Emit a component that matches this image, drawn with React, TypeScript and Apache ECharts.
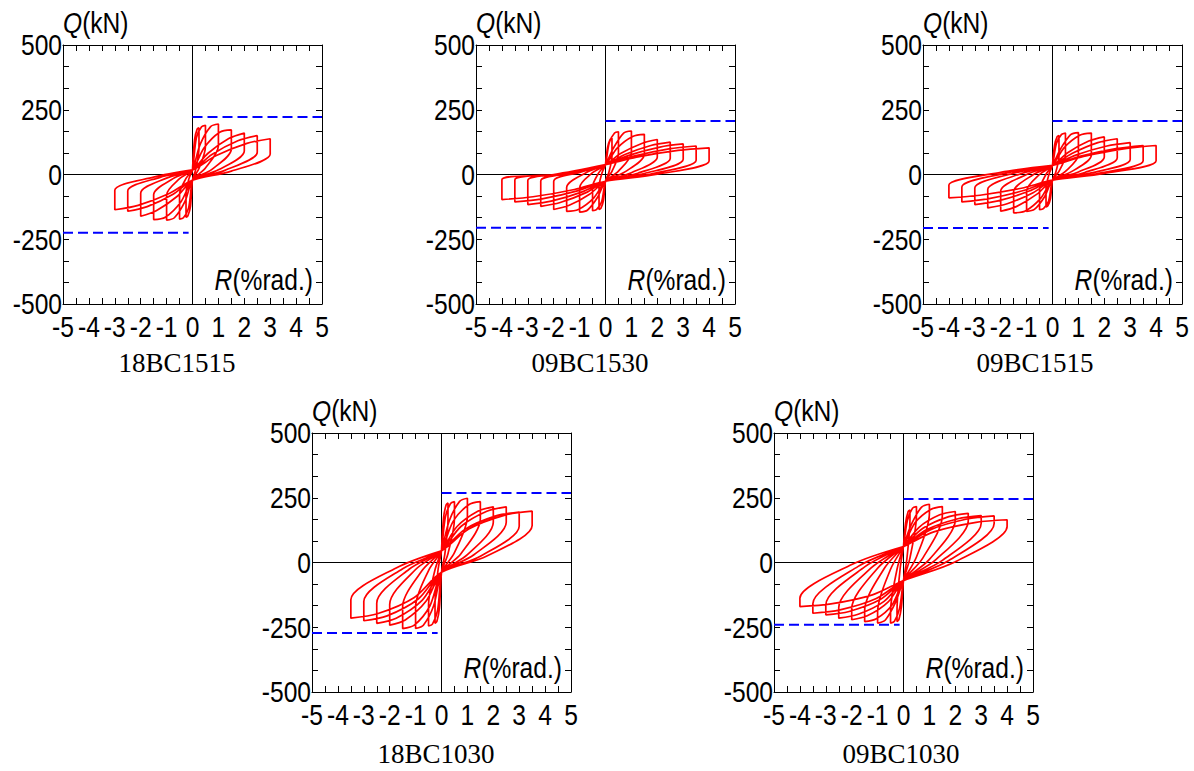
import React, { useEffect, useRef } from 'react';
import * as echarts from 'echarts';

// ---------- data (R in %rad., Q in kN) ----------
const SPECIMENS = ['18BC1515', '09BC1530', '09BC1515', '18BC1030', '09BC1030'];

const LOOPS_18BC1515: number[][][] = [
  [[0, 18], [0.08, 135], [0.18, 175], [0.25, 180], [0.25, 103], [0.13, 22], [0, -22], [-0.08, -124], [-0.18, -160], [-0.25, -165], [-0.25, -74], [-0.13, -14]],
  [[0, 18], [0.15, 142], [0.35, 184], [0.5, 190], [0.5, 108], [0.25, 23], [0, -22], [-0.15, -129], [-0.35, -167], [-0.5, -172], [-0.5, -77], [-0.25, -15]],
  [[0, 18], [0.3, 117], [0.7, 185], [1, 195], [1, 111], [0.5, 25], [0, -22], [-0.3, -106], [-0.7, -167], [-1, -176], [-1, -79], [-0.5, -16]],
  [[0, 18], [0.45, 103], [1.05, 163], [1.5, 172], [1.5, 98], [0.75, 20], [0, -22], [-0.45, -106], [-1.05, -165], [-1.5, -174], [-1.5, -78], [-0.75, -16]],
  [[0, 18], [0.6, 82], [1.4, 139], [2, 160], [2, 91], [1, 18], [0, -22], [-0.6, -85], [-1.4, -140], [-2, -161], [-2, -72], [-1, -14]],
  [[0, 18], [0.75, 77], [1.75, 130], [2.5, 150], [2.5, 86], [1.25, 16], [0, -22], [-0.75, -76], [-1.75, -124], [-2.5, -142], [-2.5, -64], [-1.25, -11]],
  [[0, 18], [0.9, 72], [2.1, 120], [3, 138], [3, 79], [1.5, 13], [0, -22], [-0.9, -73], [-2.1, -119], [-3, -136], [-3, -61], [-1.5, -10]],
];

const LOOPS_09BC1530: number[][][] = [
  [[0, 38], [0.08, 105], [0.18, 136], [0.25, 140], [0.25, 70], [0.13, 8], [0, -26], [-0.08, -101], [-0.18, -131], [-0.25, -135], [-0.25, -47], [-0.13, 8]],
  [[0, 38], [0.15, 124], [0.35, 160], [0.5, 165], [0.5, 83], [0.25, 12], [0, -26], [-0.15, -105], [-0.35, -136], [-0.5, -140], [-0.5, -49], [-0.25, 8]],
  [[0, 38], [0.3, 101], [0.7, 160], [1, 168], [1, 84], [0.5, 13], [0, -26], [-0.3, -87], [-0.7, -138], [-1, -145], [-1, -51], [-0.5, 7]],
  [[0, 38], [0.45, 102], [1.05, 147], [1.5, 155], [1.5, 78], [0.75, 10], [0, -26], [-0.45, -90], [-1.05, -135], [-1.5, -142], [-1.5, -50], [-0.75, 7]],
  [[0, 38], [0.6, 82], [1.4, 120], [2, 135], [2, 68], [1, 7], [0, -26], [-0.6, -75], [-1.4, -119], [-2, -135], [-2, -27], [-1, 8]],
  [[0, 38], [0.75, 77], [1.75, 112], [2.5, 125], [2.5, 63], [1.25, 5], [0, -26], [-0.75, -70], [-1.75, -108], [-2.5, -123], [-2.5, -25], [-1.25, 6]],
  [[0, 38], [0.9, 74], [2.1, 106], [3, 118], [3, 59], [1.5, 4], [0, -26], [-0.9, -67], [-2.1, -103], [-3, -116], [-3, -23], [-1.5, 4]],
  [[0, 38], [1.05, 70], [2.45, 99], [3.5, 110], [3.5, 55], [1.75, 2], [0, -26], [-1.05, -62], [-2.45, -94], [-3.5, -106], [-3.5, -21], [-1.75, 2]],
  [[0, 38], [1.2, 67], [2.8, 93], [4, 103], [4, 52], [2, 1], [0, -26], [-1.2, -58], [-2.8, -86], [-4, -97], [-4, -20], [-2, 0]],
];

const LOOPS_09BC1515: number[][][] = [
  [[0, 35], [0.08, 113], [0.18, 146], [0.25, 150], [0.25, 70], [0.13, 10], [0, -22], [-0.08, -94], [-0.18, -121], [-0.25, -125], [-0.25, -56], [-0.13, 3]],
  [[0, 35], [0.15, 120], [0.35, 155], [0.5, 160], [0.5, 75], [0.25, 12], [0, -22], [-0.15, -102], [-0.35, -132], [-0.5, -136], [-0.5, -61], [-0.25, 1]],
  [[0, 35], [0.3, 97], [0.7, 154], [1, 162], [1, 76], [0.5, 12], [0, -22], [-0.3, -85], [-0.7, -135], [-1, -142], [-1, -64], [-0.5, 0]],
  [[0, 35], [0.45, 104], [1.05, 152], [1.5, 160], [1.5, 75], [0.75, 12], [0, -22], [-0.45, -91], [-1.05, -141], [-1.5, -148], [-1.5, -67], [-0.75, -1]],
  [[0, 35], [0.6, 85], [1.4, 129], [2, 145], [2, 68], [1, 10], [0, -22], [-0.6, -76], [-1.4, -124], [-2, -142], [-2, -64], [-1, 0]],
  [[0, 35], [0.75, 81], [1.75, 123], [2.5, 138], [2.5, 65], [1.25, 8], [0, -22], [-0.75, -70], [-1.75, -113], [-2.5, -129], [-2.5, -58], [-1.25, 2]],
  [[0, 35], [0.9, 75], [2.1, 110], [3, 123], [3, 58], [1.5, 6], [0, -22], [-0.9, -64], [-2.1, -102], [-3, -116], [-3, -52], [-1.5, 5]],
  [[0, 35], [1.05, 70], [2.45, 100], [3.5, 112], [3.5, 53], [1.75, 4], [0, -22], [-1.05, -60], [-2.45, -93], [-3.5, -106], [-3.5, -48], [-1.75, 6]],
  [[0, 35], [1.2, 70], [2.8, 100], [4, 112], [4, 53], [2, 4], [0, -22], [-1.2, -53], [-2.8, -80], [-4, -90], [-4, -41], [-2, 8]],
];

const LOOPS_18BC1030: number[][][] = [
  [[0, 45], [0.08, 173], [0.18, 223], [0.25, 230], [0.25, 166], [0.13, 33], [0, -38], [-0.08, -176], [-0.18, -228], [-0.25, -235], [-0.25, -157], [-0.13, -26]],
  [[0, 45], [0.15, 176], [0.35, 228], [0.5, 235], [0.5, 169], [0.25, 34], [0, -38], [-0.15, -184], [-0.35, -238], [-0.5, -245], [-0.5, -164], [-0.25, -28]],
  [[0, 45], [0.3, 161], [0.7, 236], [1, 248], [1, 179], [0.5, 38], [0, -38], [-0.3, -166], [-0.7, -242], [-1, -255], [-1, -171], [-0.5, -31]],
  [[0, 45], [0.45, 159], [1.05, 223], [1.5, 235], [1.5, 169], [0.75, 34], [0, -38], [-0.45, -168], [-1.05, -242], [-1.5, -255], [-1.5, -171], [-0.75, -31]],
  [[0, 45], [0.6, 139], [1.4, 198], [2, 215], [2, 155], [1, 30], [0, -38], [-0.6, -150], [-1.4, -222], [-2, -242], [-2, -162], [-1, -27]],
  [[0, 45], [0.75, 139], [1.75, 198], [2.5, 215], [2.5, 155], [1.25, 30], [0, -38], [-0.75, -146], [-1.75, -215], [-2.5, -235], [-2.5, -157], [-1.25, -26]],
  [[0, 45], [0.9, 128], [2.1, 180], [3, 195], [3, 140], [1.5, 24], [0, -38], [-0.9, -141], [-2.1, -206], [-3, -225], [-3, -151], [-1.5, -24]],
  [[0, 45], [1.05, 129], [2.45, 183], [3.5, 198], [3.5, 143], [1.75, 25], [0, -38], [-1.05, -135], [-2.45, -197], [-3.5, -215], [-3.5, -144], [-1.75, -21]],
];

const LOOPS_09BC1030: number[][][] = [
  [[0, 62], [0.08, 152], [0.18, 197], [0.25, 203], [0.25, 171], [0.13, 14], [0, -70], [-0.08, -171], [-0.18, -221], [-0.25, -228], [-0.25, -185], [-0.13, -24]],
  [[0, 62], [0.15, 162], [0.35, 210], [0.5, 216], [0.5, 181], [0.25, 18], [0, -70], [-0.15, -176], [-0.35, -227], [-0.5, -234], [-0.5, -190], [-0.25, -26]],
  [[0, 62], [0.3, 146], [0.7, 214], [1, 225], [1, 189], [0.5, 21], [0, -70], [-0.3, -152], [-0.7, -222], [-1, -234], [-1, -190], [-0.5, -26]],
  [[0, 62], [0.45, 154], [1.05, 205], [1.5, 216], [1.5, 181], [0.75, 18], [0, -70], [-0.45, -165], [-1.05, -217], [-1.5, -228], [-1.5, -185], [-0.75, -24]],
  [[0, 62], [0.6, 136], [1.4, 184], [2, 197], [2, 165], [1, 12], [0, -70], [-0.6, -153], [-1.4, -206], [-2, -221], [-2, -179], [-1, -22]],
  [[0, 62], [0.75, 132], [1.75, 177], [2.5, 190], [2.5, 160], [1.25, 11], [0, -70], [-0.75, -150], [-1.75, -200], [-2.5, -215], [-2.5, -174], [-1.25, -21]],
  [[0, 62], [0.9, 127], [2.1, 169], [3, 181], [3, 152], [1.5, 8], [0, -70], [-0.9, -143], [-2.1, -189], [-3, -202], [-3, -164], [-1.5, -17]],
  [[0, 62], [1.05, 127], [2.45, 168], [3.5, 180], [3.5, 151], [1.75, 8], [0, -70], [-1.05, -139], [-2.45, -183], [-3.5, -196], [-3.5, -159], [-1.75, -15]],
  [[0, 62], [1.2, 119], [2.8, 155], [4, 165], [4, 139], [2, 3], [0, -70], [-1.2, -125], [-2.8, -160], [-4, -170], [-4, -138], [-2, -8]],
];

const ALL_LOOPS = [LOOPS_18BC1515, LOOPS_09BC1530, LOOPS_09BC1515, LOOPS_18BC1030, LOOPS_09BC1030];

// capacity lines (blue dashed)
const CAP_POS = [222, 207, 207, 268, 245];
const CAP_NEG = [-225, -206, -207, -272, -240];
const CAP_POS_RANGE = [0, 5];
const CAP_NEG_RANGE = [-5, -0.15];

// axes
const R_MIN = -5, R_MAX = 5, R_STEP = 1;
const Q_MIN = -500, Q_MAX = 500, Q_STEP = 250;
const R_TICK_LABELS = [-5, -4, -3, -2, -1, 0, 1, 2, 3, 4, 5];
const Q_TICK_LABELS = [-500, -250, 0, 250, 500];

// ---------- layout ----------
const SIZE = 259;
const PANELS = [
  { left: 63, top: 45, nameX: 177, nameY: 363 },
  { left: 476, top: 45, nameX: 590, nameY: 363 },
  { left: 923, top: 45, nameX: 1035, nameY: 363 },
  { left: 312, top: 433, nameX: 436, nameY: 754 },
  { left: 774, top: 433, nameX: 901, nameY: 754 },
];

const SANS = "'Liberation Sans', Arial, sans-serif";
const SERIF = "'Liberation Serif', 'Times New Roman', serif";
const NARROW_SCALE = 0.82;
const FS = 30;

function buildOption() {
  const grid: any[] = [];
  const xAxis: any[] = [];
  const yAxis: any[] = [];
  const series: any[] = [];
  const black = '#000';

  PANELS.forEach((p, i) => {
    grid.push({ left: p.left, top: p.top, width: SIZE, height: SIZE, containLabel: false });
    const tick = { show: true, inside: true, length: 6, lineStyle: { color: black, width: 1 } };
    const line = { show: true, onZero: false, lineStyle: { color: black, width: 1 } };
    ['bottom', 'top'].forEach((pos) => {
      xAxis.push({
        gridIndex: i, type: 'value', position: pos, min: R_MIN, max: R_MAX, interval: R_STEP,
        axisLine: line, axisTick: tick,
        minorTick: { show: true, splitNumber: 2, length: 6, lineStyle: { color: black, width: 1 } },
        splitLine: { show: false }, axisLabel: { show: false },
      });
    });
    ['left', 'right'].forEach((pos) => {
      yAxis.push({
        gridIndex: i, type: 'value', position: pos, min: Q_MIN, max: Q_MAX, interval: Q_STEP,
        axisLine: line, axisTick: tick,
        minorTick: { show: true, splitNumber: 3, length: 6, lineStyle: { color: black, width: 1 } },
        splitLine: { show: false }, axisLabel: { show: false },
      });
    });
    const ax = { xAxisIndex: i * 2, yAxisIndex: i * 2, type: 'line', symbol: 'none', silent: true, animation: false };
    series.push({ ...ax, data: [[R_MIN, 0], [R_MAX, 0]], lineStyle: { color: black, width: 1 } });
    series.push({ ...ax, data: [[0, Q_MIN], [0, Q_MAX]], lineStyle: { color: black, width: 1 } });
    series.push({ ...ax, data: [[CAP_POS_RANGE[0], CAP_POS[i]], [CAP_POS_RANGE[1], CAP_POS[i]]], lineStyle: { color: '#0000ff', width: 2, type: [10, 5] } });
    series.push({ ...ax, data: [[CAP_NEG_RANGE[0], CAP_NEG[i]], [CAP_NEG_RANGE[1], CAP_NEG[i]]], lineStyle: { color: '#0000ff', width: 2, type: [10, 5] } });
    const loops = ALL_LOOPS[i];
    const pts: number[][] = [];
    loops.forEach((l) => l.forEach((pt) => pts.push(pt)));
    pts.push(loops[0][0]);
    series.push({ ...ax, data: pts, smooth: 0.3, lineStyle: { color: '#ff0000', width: 1.7 } });
  });

  return { animation: false, backgroundColor: '#fff', grid, xAxis, yAxis, series };
}

function narrowText(text: string, x: number, y: number, align: string, rich?: any) {
  return {
    type: 'text', x, y, scaleX: NARROW_SCALE, scaleY: 1, silent: true,
    style: rich
      ? { text, align, verticalAlign: 'middle', rich }
      : { text, align, verticalAlign: 'middle', fontSize: FS, fontFamily: SANS, fill: '#000' },
  };
}

function buildGraphics(chart: any) {
  const g: any[] = [];
  const rich = {
    i: { fontStyle: 'italic', fontSize: FS, fontFamily: SANS, fill: '#000' },
    n: { fontSize: FS, fontFamily: SANS, fill: '#000' },
  };
  PANELS.forEach((p, i) => {
    // tick labels positioned through the library's own scales
    R_TICK_LABELS.forEach((v) => {
      const [px, py] = chart.convertToPixel({ gridIndex: i }, [v, Q_MIN]);
      g.push(narrowText(String(v), px, py + 23, 'center'));
    });
    Q_TICK_LABELS.forEach((v) => {
      const [px, py] = chart.convertToPixel({ gridIndex: i }, [R_MIN, v]);
      g.push(narrowText(String(v), px - 1, py, 'right'));
    });
    g.push(narrowText('{i|Q}{n|(kN)}', p.left, p.top - 22, 'left', rich));
    g.push(narrowText('{i|R}{n|(%rad.)}', p.left + SIZE - 9, p.top + SIZE - 24, 'right', rich));
    g.push({
      type: 'text', x: p.nameX, y: p.nameY, silent: true,
      style: { text: SPECIMENS[i], align: 'center', verticalAlign: 'middle', fontSize: 27, fontFamily: SERIF, fill: '#000' },
    });
  });
  return g;
}

export default function App() {
  const ref = useRef<HTMLDivElement>(null);
  useEffect(() => {
    if (!ref.current) return;
    const chart = echarts.init(ref.current, undefined, { renderer: 'svg' });
    chart.setOption(buildOption() as any);
    chart.setOption({ graphic: buildGraphics(chart) } as any);
    return () => chart.dispose();
  }, []);
  return <div ref={ref} style={{ position: 'absolute', left: 0, top: 0, width: 1194, height: 771, background: '#fff' }} />;
}
